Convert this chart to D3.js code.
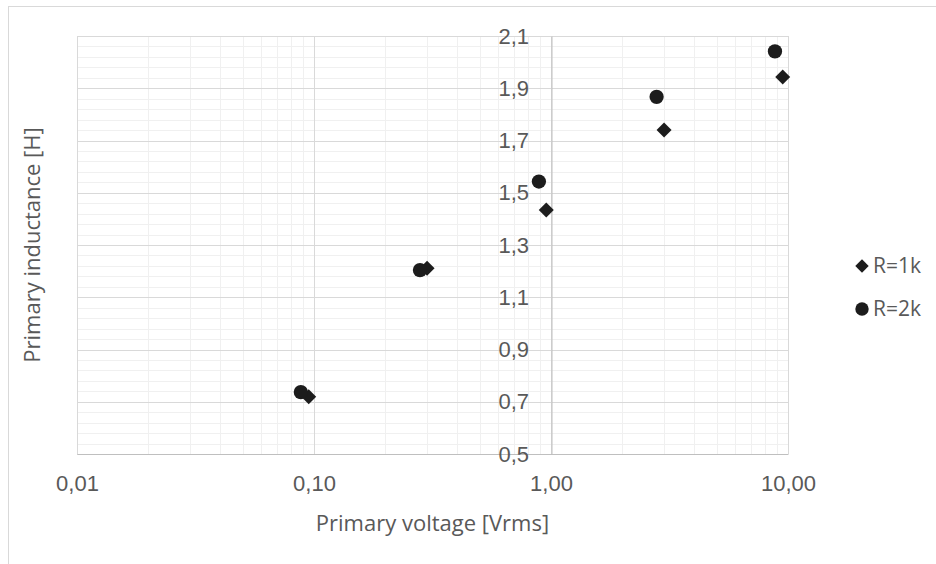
<!DOCTYPE html>
<html>
<head>
<meta charset="utf-8">
<script src="https://cdn.jsdelivr.net/npm/d3@7"></script>
<style>
  body { margin: 0; background: #fff; }
  svg { display: block; font-family: "Open Sans", Lato, sans-serif; }
  .axis text { fill: #595959; font-size: 22px; }
  .axis path { stroke: #bfbfbf; }
  .axis-title { fill: #595959; font-size: 22px; }
  .legend text { fill: #595959; font-size: 21px; }
</style>
</head>
<body>
<svg id="chart"></svg>
<script>
// Series data
const seriesNames = ['R=1k', 'R=2k'];
const r1kVoltage = [0.095, 0.30, 0.955, 3.0, 9.5];
const r1kInductance = [0.719, 1.211, 1.434, 1.740, 1.943];
const r2kVoltage = [0.088, 0.28, 0.889, 2.79, 8.81];
const r2kInductance = [0.737, 1.204, 1.543, 1.867, 2.041];

// Axis ticks
const xTicks = [0.01, 0.1, 1, 10];
const xTickLabels = ['0,01', '0,10', '1,00', '10,00'];
const yTicks = [0.5, 0.7, 0.9, 1.1, 1.3, 1.5, 1.7, 1.9, 2.1];
const yTickLabels = ['0,5', '0,7', '0,9', '1,1', '1,3', '1,5', '1,7', '1,9', '2,1'];

class ScatterChart {

  constructor(_config, _data) {
    this.config = {
      parentElement: _config.parentElement,
      containerWidth: _config.containerWidth || 936,
      containerHeight: _config.containerHeight || 564,
      margin: _config.margin || {top: 36, right: 148, bottom: 110, left: 77}
    };
    this.data = _data;
    this.initVis();
  }

  /**
   * Create SVG area, scales and axes
   */
  initVis() {
    let vis = this;

    vis.width = vis.config.containerWidth - vis.config.margin.left - vis.config.margin.right;
    vis.height = vis.config.containerHeight - vis.config.margin.top - vis.config.margin.bottom;

    vis.xScale = d3.scaleLog()
      .domain([0.01, 10])
      .range([0, vis.width]);

    vis.yScale = d3.scaleLinear()
      .domain([0.5, 2.1])
      .range([vis.height, 0]);

    vis.xAxis = d3.axisBottom(vis.xScale)
      .tickValues(xTicks)
      .tickFormat((d, i) => xTickLabels[i])
      .tickSize(0)
      .tickPadding(21);

    vis.yAxis = d3.axisLeft(vis.yScale)
      .tickValues(yTicks)
      .tickFormat((d, i) => yTickLabels[i])
      .tickSize(0)
      .tickPadding(22);

    vis.svg = d3.select(vis.config.parentElement)
      .attr('width', vis.config.containerWidth)
      .attr('height', vis.config.containerHeight);

    // chart frame (only top and left edges show in the picture)
    vis.svg.append('rect')
      .attr('x', 8.5)
      .attr('y', 6.5)
      .attr('width', 1000)
      .attr('height', 1000)
      .attr('fill', 'none')
      .attr('stroke', '#d9d9d9');

    vis.chart = vis.svg.append('g')
      .attr('transform', `translate(${vis.config.margin.left},${vis.config.margin.top})`);

    vis.gridG = vis.chart.append('g').attr('class', 'grid');

    vis.xAxisG = vis.chart.append('g')
      .attr('class', 'axis x-axis')
      .attr('transform', `translate(0,${vis.height})`);

    // vertical axis crosses at x = 1
    vis.yAxisG = vis.chart.append('g')
      .attr('class', 'axis y-axis')
      .attr('transform', `translate(${vis.xScale(1)},0)`);

    vis.markG = vis.chart.append('g');

    vis.svg.append('text')
      .attr('class', 'axis-title')
      .attr('x', vis.config.margin.left + vis.width / 2)
      .attr('y', 531)
      .attr('text-anchor', 'middle')
      .text('Primary voltage [Vrms]');

    vis.svg.append('text')
      .attr('class', 'axis-title')
      .attr('transform', `translate(40,${vis.config.margin.top + vis.height / 2}) rotate(-90)`)
      .attr('text-anchor', 'middle')
      .text('Primary inductance [H]');

    vis.legend = vis.svg.append('g').attr('class', 'legend');
  }

  updateVis() {
    let vis = this;
    vis.xValue = d => d.voltage;
    vis.yValue = d => d.inductance;

    const isMajorX = v => xTicks.some(t => Math.abs(t - v) / t < 1e-6);
    vis.minorX = vis.xScale.ticks().filter(v => !isMajorX(v));
    vis.minorY = d3.range(0.5, 2.1 + 1e-9, 0.04)
      .filter(v => !yTicks.some(t => Math.abs(t - v) < 1e-6));

    vis.renderVis();
  }

  renderVis() {
    let vis = this;

    // minor gridlines
    vis.gridG.selectAll('.minor-x')
      .data(vis.minorX)
      .join('line')
      .attr('class', 'minor-x')
      .attr('x1', d => Math.round(vis.xScale(d)) + 0.5)
      .attr('x2', d => Math.round(vis.xScale(d)) + 0.5)
      .attr('y1', 0)
      .attr('y2', vis.height)
      .attr('stroke', '#f0f0f0');

    vis.gridG.selectAll('.minor-y')
      .data(vis.minorY)
      .join('line')
      .attr('class', 'minor-y')
      .attr('x1', 0)
      .attr('x2', vis.width)
      .attr('y1', d => Math.round(vis.yScale(d)) + 0.5)
      .attr('y2', d => Math.round(vis.yScale(d)) + 0.5)
      .attr('stroke', '#f0f0f0');

    // major gridlines
    vis.gridG.selectAll('.major-x')
      .data(xTicks)
      .join('line')
      .attr('class', 'major-x')
      .attr('x1', d => Math.round(vis.xScale(d)) + 0.5)
      .attr('x2', d => Math.round(vis.xScale(d)) + 0.5)
      .attr('y1', 0)
      .attr('y2', vis.height)
      .attr('stroke', '#d9d9d9');

    vis.gridG.selectAll('.major-y')
      .data(yTicks)
      .join('line')
      .attr('class', 'major-y')
      .attr('x1', 0)
      .attr('x2', vis.width)
      .attr('y1', d => Math.round(vis.yScale(d)) + 0.5)
      .attr('y2', d => Math.round(vis.yScale(d)) + 0.5)
      .attr('stroke', '#d9d9d9');

    vis.xAxisG.call(vis.xAxis);
    vis.yAxisG.call(vis.yAxis);
    vis.yAxisG.select('.domain').attr('transform', 'translate(0.5,0)');

    const diamond = d3.symbol().type(d3.symbolSquare).size(112);
    const circle = d3.symbol().type(d3.symbolCircle).size(160);

    vis.markG.selectAll('.r1k')
      .data(vis.data[0])
      .join('path')
      .attr('class', 'r1k')
      .attr('d', diamond)
      .attr('fill', '#1c1c1c')
      .attr('transform', d => `translate(${vis.xScale(vis.xValue(d))},${vis.yScale(vis.yValue(d))}) rotate(45)`);

    vis.markG.selectAll('.r2k')
      .data(vis.data[1])
      .join('path')
      .attr('class', 'r2k')
      .attr('d', circle)
      .attr('fill', '#1c1c1c')
      .attr('transform', d => `translate(${vis.xScale(vis.xValue(d))},${vis.yScale(vis.yValue(d))})`);

    // legend
    const items = vis.legend.selectAll('g')
      .data(seriesNames)
      .join('g')
      .attr('transform', (d, i) => `translate(862,${266 + i * 43})`);

    items.append('path')
      .attr('d', (d, i) => i === 0 ? d3.symbol().type(d3.symbolSquare).size(90)() : d3.symbol().type(d3.symbolCircle).size(140)())
      .attr('transform', (d, i) => i === 0 ? 'rotate(45)' : null)
      .attr('fill', '#1c1c1c');

    items.append('text')
      .attr('x', 11)
      .attr('dy', '0.35em')
      .text(d => d);
  }
}

const chartData = [
  r1kVoltage.map((v, i) => ({voltage: v, inductance: r1kInductance[i]})),
  r2kVoltage.map((v, i) => ({voltage: v, inductance: r2kInductance[i]}))
];

const chart = new ScatterChart({parentElement: '#chart'}, chartData);
chart.updateVis();
</script>
</body>
</html>
